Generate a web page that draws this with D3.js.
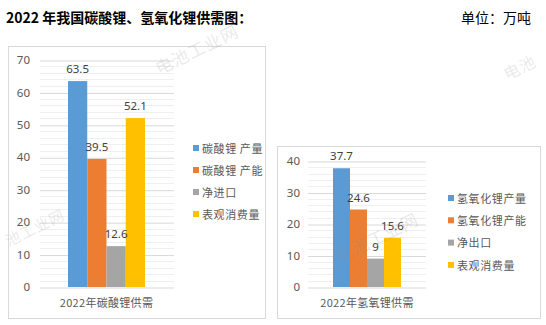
<!DOCTYPE html>
<html>
<head>
<meta charset="utf-8">
<script src="https://cdn.jsdelivr.net/npm/d3@7"></script>
<style>
  html, body { margin: 0; padding: 0; background: #fff; }
  svg { display: block; font-family: "Noto Sans CJK SC", "Noto Sans", sans-serif; }
</style>
</head>
<body>
<svg id="chart" width="546" height="325"></svg>
<script>
// Lithium carbonate supply & demand, 2022 (10k tonnes)
const carbCategory = "2022年碳酸锂供需";
const carbSeries = ["碳酸锂 产量", "碳酸锂 产能", "净进口", "表观消费量"];
const carbValues = [63.5, 39.5, 12.6, 52.1];
const carbTicks = [0, 10, 20, 30, 40, 50, 60, 70];

// Lithium hydroxide supply & demand, 2022 (10k tonnes)
const hydCategory = "2022年氢氧锂供需";
const hydSeries = ["氢氧化锂产量", "氢氧化锂产能", "净出口", "表观消费量"];
const hydValues = [37.7, 24.6, 9, 15.6];
const hydTicks = [0, 10, 20, 30, 40];

const seriesColors = ["#5B9BD5", "#ED7D31", "#A5A5A5", "#FFC000"];

const titleText = "2022 年我国碳酸锂、氢氧化锂供需图：";
const unitText = "单位：万吨";
// site watermarks; the ones near the edges only show part of the name
const watermarkTexts = ["电池工业网", "电池", "池工业网", "电池工业网"];

const svg = d3.select("#chart");

// Header
svg.append("text").attr("x", 6).attr("y", 23)
  .attr("font-size", 14).attr("font-weight", "bold").attr("fill", "#000")
  .text(titleText);
svg.append("text").attr("x", 531).attr("y", 23).attr("text-anchor", "end")
  .attr("font-size", 14).attr("fill", "#000")
  .text(unitText);

function drawPanel(cfg) {
  const g = svg.append("g");
  // outer frame
  g.append("rect")
    .attr("x", cfg.box[0] + 0.5).attr("y", cfg.box[1] + 0.5)
    .attr("width", cfg.box[2] - cfg.box[0]).attr("height", cfg.box[3] - cfg.box[1])
    .attr("fill", "#fff").attr("stroke", "#D9D9D9").attr("stroke-width", 1);

  const y = d3.scaleLinear().domain([0, cfg.max]).range([cfg.plotBottom, cfg.plotTop]);

  // minor gridlines (every 2 units)
  const minor = d3.range(0, cfg.max + 0.001, 2).filter(v => v % 10 !== 0);
  g.selectAll(".minor").data(minor).join("line")
    .attr("x1", cfg.plotLeft).attr("x2", cfg.plotRight)
    .attr("y1", d => Math.round(y(d)) + 0.5).attr("y2", d => Math.round(y(d)) + 0.5)
    .attr("stroke", "#EFEFEF").attr("stroke-width", 1);

  // major gridlines + tick labels via axis
  const axis = d3.axisLeft(y).tickValues(cfg.ticks).tickSize(-(cfg.plotRight - cfg.plotLeft)).tickPadding(10);
  const ax = g.append("g").attr("transform", `translate(${cfg.plotLeft},0)`).call(axis);
  ax.select(".domain").remove();
  ax.selectAll(".tick line").attr("stroke", "#D9D9D9")
    .attr("transform", "translate(0,0.5)");
  ax.selectAll(".tick text").attr("fill", "#595959").attr("font-size", 11.5)
    .attr("font-family", "'Noto Sans', sans-serif")
    .attr("x", cfg.tickX - cfg.plotLeft);

  // bars
  const x = d3.scaleBand().domain(cfg.series).range(cfg.groupRange).padding(0);
  const data = cfg.series.map((s, i) => ({ s, v: cfg.values[i], c: seriesColors[i] }));
  g.selectAll(".bar").data(data).join("rect")
    .attr("x", d => x(d.s)).attr("width", x.bandwidth())
    .attr("y", d => y(d.v)).attr("height", d => y(0) - y(d.v))
    .attr("fill", d => d.c);

  // value labels
  g.selectAll(".val").data(data).join("text")
    .attr("x", d => x(d.s) + x.bandwidth() / 2)
    .attr("y", d => y(d.v) - 8)
    .attr("text-anchor", "middle").attr("font-size", 11.5)
    .attr("font-family", "'Noto Sans', sans-serif")
    .attr("fill", "#404040")
    .text(d => d.v);

  // category label
  g.append("text")
    .attr("x", (cfg.groupRange[0] + cfg.groupRange[1]) / 2).attr("y", cfg.catY)
    .attr("text-anchor", "middle").attr("font-size", 11).attr("fill", "#595959")
    .attr("letter-spacing", 0.3)
    .text(cfg.category);

  // legend
  const lg = g.selectAll(".leg").data(data).join("g")
    .attr("transform", (d, i) => `translate(${cfg.legendX},${cfg.legendY + i * cfg.legendStep})`);
  lg.append("rect").attr("x", 0).attr("y", -4).attr("width", 6).attr("height", 6)
    .attr("fill", d => d.c);
  lg.append("text").attr("x", 9).attr("y", 0).attr("dy", "0.35em")
    .attr("font-size", 11).attr("fill", "#595959").attr("letter-spacing", 0.6)
    .text(d => d.s);
}

drawPanel({
  box: [8, 46, 265, 318],
  plotLeft: 40, plotRight: 174, plotTop: 60, plotBottom: 287,
  tickX: 30, max: 70, ticks: carbTicks,
  groupRange: [68, 145],
  series: carbSeries, values: carbValues, category: carbCategory, catY: 307,
  legendX: 193, legendY: 149, legendStep: 22
});

drawPanel({
  box: [277, 146, 540, 318],
  plotLeft: 308, plotRight: 426, plotTop: 161, plotBottom: 287,
  tickX: 300, max: 40, ticks: hydTicks,
  groupRange: [333, 401],
  series: hydSeries, values: hydValues, category: hydCategory, catY: 307,
  legendX: 448, legendY: 199, legendStep: 22.3
});

// faint rotated watermarks
const marks = [
  { x: 197, y: 50, a: -26, s: 17 },
  { x: 520, y: 68, a: -26, s: 16 },
  { x: 35, y: 228, a: -26, s: 15 },
  { x: 377, y: 238, a: -26, s: 17 }
];
svg.selectAll(".wm").data(marks).join("text")
  .attr("transform", d => `translate(${d.x},${d.y}) rotate(${d.a})`)
  .attr("text-anchor", "middle").attr("dy", "0.35em")
  .attr("font-size", d => d.s).attr("fill", "#8c8c8c").attr("fill-opacity", 0.2)
  .attr("letter-spacing", 1)
  .text((d, i) => watermarkTexts[i]);
</script>
</body>
</html>
